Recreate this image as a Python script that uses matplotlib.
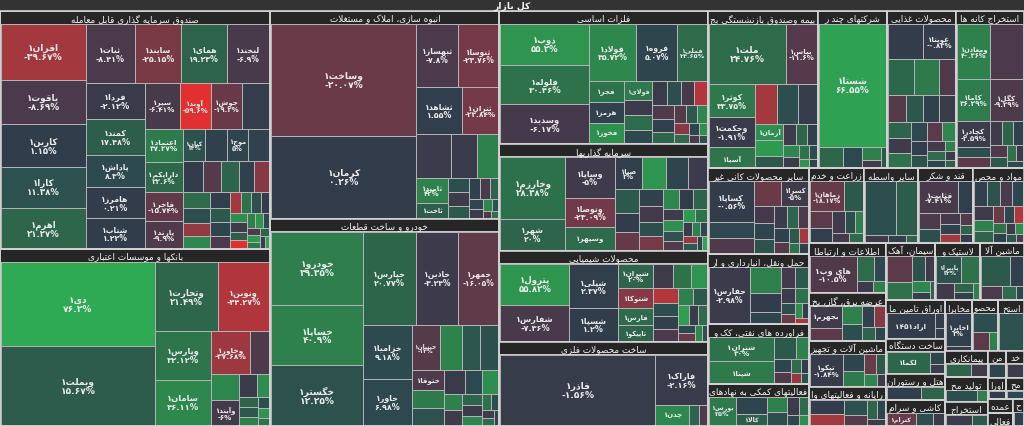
import matplotlib
matplotlib.use('Agg')
import matplotlib.pyplot as plt
from matplotlib.patches import Rectangle
from matplotlib.colors import LinearSegmentedColormap, Normalize

# ---- data: sectors (market weight) ----
sector_names = [
    'صندوق سرمایه گذاری قابل معامله', 'بانکها و موسسات اعتباری',
    'انبوه سازی، املاک و مستغلات', 'خودرو و ساخت قطعات', 'فلزات اساسی',
    'سرمایه گذاریها', 'محصولات شیمیایی', 'ساخت محصولات فلزی',
    'بیمه وصندوق بازنشستگی بجزتامین اجتماعی', 'شرکتهای چند رشته ای صنعتی',
    'محصولات غذایی و آشامیدنی به جز قند و شکر', 'استخراج کانه های فلزی',
    'سایر محصولات کانی غیرفلزی', 'حمل ونقل، انبارداری و ارتباطات',
    'فراورده های نفتی، کک و سوخت هسته ای', 'فعالیتهای کمکی به نهادهای مالی واسط',
    'زراعت و خدمات وابسته', 'سایر واسطه گریهای مالی', 'قند و شکر',
    'مواد و محصولات دارویی', 'اطلاعات و ارتباطات', 'عرضه برق، گاز، بخاروآب گرم',
    'ماشین آلات و تجهیزات', 'رایانه و فعالیتهای وابسته به آن', 'سیمان، آهک و گچ',
    'لاستیک و پلاستیک', 'ماشین آلات و دستگاههای برقی', 'اوراق تامین مالی',
    'ساخت دستگاهها و وسایل ارتباطی', 'هتل و رستوران', 'کاشی و سرامیک', 'مخابرات',
    'محصولات چوبی', 'استخراج نفت گاز و خدمات جنبی جز اکتشاف', 'پیمانکاری صنعتی',
    'تولید محصولات کامپیوتری الکترونیکی ونوری', 'استخراج سایر معادن', 'منسوجات',
    'خدمات فنی و مهندسی', 'اوراق مشارکت و سپرده های بانکی', 'محصولات کاغذی',
    'عمده فروشی', 'فعالیت های هنری', 'حمل و نقل آبی',
]
sector_caps = [64320, 47800, 47600, 47400, 27700, 22256, 18928, 17600,
               17300, 10900, 10800, 10700, 8686, 7070, 6060, 4242,
               4100, 4080, 4060, 3850, 3800, 3700, 3500, 3000,
               2850, 2565, 2508, 2280, 2100, 1570, 1550, 1350,
               1300, 1290, 1125, 1035, 1020, 500, 480, 400, 380, 360, 320, 300]

# ---- data: symbols in each sector (unnamed = too small to label) ----
tile_names = [
    ['افران', 'یاقوت', 'کارین', 'کارا', 'اهرم', 'ثبات', 'سایند', 'همای', 'لبخند', 'فردا', 'کمند',
     'پاداش', 'هامرز', 'شتاب', 'سپر', 'آوند', 'جوش', '', 'اعتماد', 'دارایکم', 'فاخر', 'پارند',
     'کیان', 'اونیکس', 'موج', 'اتوآگاه'],
    ['دی', 'وبملت', 'وتجارت', 'ونوین', 'وپارس', 'سامان', 'وخاور', '', '', 'وآیند'],
    ['وساخت', 'کرمان', 'ثبهساز', 'ثنوسا', 'ثشاهد', 'ثتران', '', '', '', 'ثامید', 'ثاخت'],
    ['خودرو', 'خساپا', 'خگستر', 'خپارس', 'خاذین', 'خمهر', 'خزامیا', 'خاور', 'خبنیان', '', '', '', 'ختوقا'],
    ['ذوب', 'فلوله', 'وسدید', 'فولاد', 'فروه', 'فملی', 'فجر', 'هرمز', 'فخوز', 'فولای'],
    ['وخارزم', 'شهر', 'وساپا', 'وتوصا', 'وسپهر', 'صبا', 'وبهمن', '', '', '', '', 'ولانی'],
    ['پترول', 'شفارس', 'شپلی', 'شسپا', 'شیران', 'شتوکا', 'فارس', '', 'تاپیکو'],
    ['فاذر', 'فاراک', 'چدن'],
    ['ملت', 'بپاس', 'کوثر', 'وحکمت', 'آسیا', '', '', 'دانا', 'آرمان'],
    ['شستا'],
    ['', 'غویتا', 'غگرا'],
    ['ومعادن', '', 'کاما', 'کگل', 'کچادر'],
    ['کساپا', '', '', 'کبهشهر', 'کسرا'],
    ['حفارس'],
    ['شتران', 'شپنا'],
    ['بورس', 'فرابورس', 'کالا'],
    ['زماهان'],
    [],
    ['قثابت'],
    [],
    ['های وب'],
    ['بجهرم'],
    ['تپکو'],
    [],
    ['سبزوا'],
    ['پاپیرا'],
    [],
    ['اراد145'],
    ['لکما'],
    [],
    ['کترام'],
    ['اخابر'],
    [], [], [], [], [], [], [], [], [], [], [], [],
]
tile_caps = [
    [4536, 3645, 3420, 3400, 3240, 2800, 2650, 2600, 2400, 2040, 2000, 1850, 1760, 1680, 1550, 1380,
     1370, 1200, 1190, 1120, 1050, 990, 680, 670, 650, 640, 620,
     560, 520, 480, 450, 420, 380, 350, 320, 300, 280, 260, 240, 220, 200, 180, 170, 160, 150, 140,
     130, 120, 110, 100, 90, 85, 80, 70, 60, 50],
    [12700, 11934, 4278, 3519, 2688, 2520, 1628, 836, 725, 700, 400, 275, 200, 180, 150, 120, 100, 80],
    [16095, 11745, 2583, 2520, 2115, 1692, 1496, 1144, 924, 775, 465,
     300, 280, 260, 220, 200, 180, 150, 120, 100, 80, 60, 50],
    [6570, 5490, 5400, 4876, 3864, 3680, 2596, 2183, 1239, 980, 805, 800, 640,
     580, 560, 480, 420, 380, 300, 260, 220, 200, 180, 150, 120, 100, 80, 60],
    [3700, 3600, 3500, 2679, 2394, 1710, 760, 720, 700, 580, 440, 435, 350,
     380, 360, 340, 320, 300, 280, 250, 230, 200, 180, 160, 140, 120, 100, 80, 60],
    [3760, 1900, 1880, 1344, 1050, 840, 714, 700, 560, 540, 450, 420,
     380, 350, 320, 300, 280, 260, 240, 220, 200, 180, 160, 150, 140, 120, 110, 100, 90, 80, 70, 60],
    [2730, 2340, 2070, 1518, 819, 663, 585, 470, 507,
     400, 380, 350, 320, 300, 280, 250, 220, 200, 180, 160, 140, 120, 100, 80],
    [11160, 2700, 684, 200, 150],
    [4312, 1736, 1435, 1312, 860, 820, 790, 700, 420, 400, 300, 250, 220, 200, 180, 150, 120, 100, 80, 60],
    [8568, 500, 400, 250, 150, 120],
    [1224, 1122, 910, 875, 560, 480, 456, 430, 420,
     380, 350, 320, 300, 280, 250, 230, 200, 180, 150, 130, 110, 90, 70],
    [1900, 1880, 1450, 1420, 864, 360, 340, 300, 280, 250, 200, 180, 150, 120, 100],
    [2142, 850, 830, 810, 800, 400, 380, 350, 320, 300, 260, 240, 200, 180, 150, 120, 100],
    [2632, 900, 672, 400, 350, 300, 260, 220, 180, 150, 120, 100, 80],
    [1742, 1541, 504, 288, 250, 200, 150, 120, 100, 80],
    [882, 616, 400, 350, 300, 250, 200, 150, 100],
    [988, 540, 364, 300, 280, 220, 180, 150, 120],
    [1888, 1298, 200, 150, 100],
    [1320, 462, 378, 300, 250, 200, 180, 150, 120, 100],
    [350, 320, 300, 280, 260, 230, 210, 190, 170, 150, 130, 120, 100, 90, 80, 60],
    [1924, 500, 300, 200, 150],
    [825, 430, 400, 350, 300, 250, 200, 150],
    [1122, 400, 350, 250, 200, 150, 100],
    [500, 400, 350, 250, 200, 150, 100],
    [726, 500, 350, 250, 200, 150, 100],
    [700, 500, 300, 200, 150, 100],
    [900, 400, 300, 200, 100],
    [1248, 150, 100],
    [1100, 200, 150],
    [600, 400],
    [500, 300, 200],
    [900, 100],
    [500, 300, 150],
    [900],
    [300, 200],
    [300, 100],
    [250, 150],
    [200], [200], [150], [150], [150], [100], [100],
]
tile_changes = [
    [-39.67, -8.69, 1.15, 11.38, 21.27, -8.41, -25.15, 19.23, -6.9, -2.12, 17.48, 8.3, 0.21, 1.22,
     -6.41, -59.6, -19.2, -1, 37.27, 22.6, -15.74, -9.9, 12, 3, 5, 4, 0,
     -12, 20, 3, -30, 25, 10, -35, 45, 2, 15, 5, -8, -40, 30, 12, 0, 50, -5, 18, -60, 40, 55, 8,
     -10, 60, 35, 20, -3, 70],
    [76.2, 15.67, 21.49, -44.27, 32.12, 46.11, -37.68, -9, 45, -6, -2, 50, 20, 15, 40, 10, 55, 30],
    [-20.07, 0.26, -7.8, -23.76, 1.55, -23.84, -3, -2, 40, 42, 18,
     10, -4, 15, 3, -8, 20, 6, -3, 45, 12, -10, 30],
    [39.35, 40.9, 12.25, 20.77, -3.24, -16.05, 9.18, 6.98, -12, 42, 14, 11, -10,
     35, 12, -2, 8, 50, 40, -5, 20, -3, 45, 30, 10, -6, 25, 5],
    [55.2, 30.46, -6.17, 45.72, 5.07, 24.65, 30, 4, 52, 36, -3, 25, 10,
     8, -2, -6, -45, -10, 3, 20, -12, 15, 45, -30, 25, 5, 50, -8, 12],
    [28.38, 20, -5, -23.09, 25, 2, 55, 5, -3, 15, 0, -18,
     3, -6, 10, -25, 45, 0, 20, -4, 50, 12, -10, 60, 30, -2, 40, 8, -35, 15, 5, 70],
    [55.82, -7.36, 2.37, 1.2, 20, -30, 25, -5, 20,
     30, 55, -45, 10, 3, -8, 40, 15, 65, -3, 25, 8, -20, 45, 12],
    [-1.56, -2.16, 45, 20, -10],
    [24.76, -11.6, 33.75, -1.91, 32, -40, 10, -1.45, 50, 60, 15, -5, 20, 2, 45, -3, 30, 10, 55, 5],
    [66.55, 22, 8, 40, -5, 15],
    [0, -0.83, 22.03, 35, -10, -12, 14, 3, -2,
     20, -4, 30, 8, -15, 45, 2, 12, -6, 25, 5, 40, -3, 18],
    [40.36, -8, 36.29, -9.29, -2.59, 10, -15, -5, 20, 3, -10, 15, 30, -2, 8],
    [-0.56, 8, -10, -20, -5, -6, 5, 12, -3, 20, -8, 3, -12, 15, -40, 30, 2],
    [-2.98, 40, 0, 5, -6, 15, -3, 30, 10, -20, 50, 2, -40],
    [30, 35, 15, 40, 5, -10, 25, 2, -35, 12],
    [35, 5, 18, 40, 10, -3, 25, 6, 50],
    [-18.17, 15, -15, 2, -4, 10, 40, -6, 25],
    [10, 16, -5, 3, 20],
    [-7.41, 2, -9, 10, -6, 4, -40, -12, 20, 2],
    [3, 12, -8, 6, -5, 40, 20, -20, 8, -45, 30, 2, -3, 50, 15, -10],
    [-10.5, 25, 8, -3, 40],
    [-5, -15, 40, 10, 3, -30, 20, 5],
    [-1.84, 5, 35, -20, 15, 45, -5],
    [0, -40, 12, -12, 20, 5, -5],
    [-15, 30, 12, -5, 45, 3, 20],
    [12, 30, -5, 20, 3, 40],
    [15, 3, -8, 25, 5],
    [0.5, 1, 0],
    [22, 5, -3],
    [2, 20],
    [-20, 10, -3],
    [2, 0],
    [10, -15, 40],
    [12],
    [20, -5],
    [10, 40],
    [-3, 15],
    [5], [-5], [0], [8], [-2], [12], [3],
]

# colour scale for % change
scale_values = [-60, -40, -22, -8, 0, 8, 20, 40, 60, 80, 100]
scale_colors = ['#e22f2f', '#a3383f', '#6f3a48', '#4a3a4b', '#323c4b', '#2d494f',
                '#2d644b', '#2e804d', '#2e9a50', '#2fae55', '#33c257']

W, H = 1024, 427
TOP = 12
HEAD = 13
PHI = (1 + 5 ** 0.5) / 2

# ---- persian shaping (matplotlib has no arabic shaping / bidi) ----
FORMS = {
    'ا': (0xFE8D, 0xFE8E), 'آ': (0xFE81, 0xFE82), 'د': (0xFEA9, 0xFEAA),
    'ذ': (0xFEAB, 0xFEAC), 'ر': (0xFEAD, 0xFEAE), 'ز': (0xFEAF, 0xFEB0),
    'ژ': (0xFB8A, 0xFB8B), 'و': (0xFEED, 0xFEEE),
    'ب': (0xFE8F, 0xFE90, 0xFE91, 0xFE92), 'پ': (0xFB56, 0xFB57, 0xFB58, 0xFB59),
    'ت': (0xFE95, 0xFE96, 0xFE97, 0xFE98), 'ث': (0xFE99, 0xFE9A, 0xFE9B, 0xFE9C),
    'ج': (0xFE9D, 0xFE9E, 0xFE9F, 0xFEA0), 'چ': (0xFB7A, 0xFB7B, 0xFB7C, 0xFB7D),
    'ح': (0xFEA1, 0xFEA2, 0xFEA3, 0xFEA4), 'خ': (0xFEA5, 0xFEA6, 0xFEA7, 0xFEA8),
    'س': (0xFEB1, 0xFEB2, 0xFEB3, 0xFEB4), 'ش': (0xFEB5, 0xFEB6, 0xFEB7, 0xFEB8),
    'ص': (0xFEB9, 0xFEBA, 0xFEBB, 0xFEBC), 'ض': (0xFEBD, 0xFEBE, 0xFEBF, 0xFEC0),
    'ط': (0xFEC1, 0xFEC2, 0xFEC3, 0xFEC4), 'ظ': (0xFEC5, 0xFEC6, 0xFEC7, 0xFEC8),
    'ع': (0xFEC9, 0xFECA, 0xFECB, 0xFECC), 'غ': (0xFECD, 0xFECE, 0xFECF, 0xFED0),
    'ف': (0xFED1, 0xFED2, 0xFED3, 0xFED4), 'ق': (0xFED5, 0xFED6, 0xFED7, 0xFED8),
    'ک': (0xFB8E, 0xFB8F, 0xFB90, 0xFB91), 'گ': (0xFB92, 0xFB93, 0xFB94, 0xFB95),
    'ل': (0xFEDD, 0xFEDE, 0xFEDF, 0xFEE0), 'م': (0xFEE1, 0xFEE2, 0xFEE3, 0xFEE4),
    'ن': (0xFEE5, 0xFEE6, 0xFEE7, 0xFEE8), 'ه': (0xFEE9, 0xFEEA, 0xFEEB, 0xFEEC),
    'ی': (0xFBFC, 0xFBFD, 0xFBFE, 0xFBFF), 'ئ': (0xFE89, 0xFE8A, 0xFE8B, 0xFE8C),
}
LAM_ALEF = {'ا': (0xFEFB, 0xFEFC), 'آ': (0xFEF5, 0xFEF6)}
FA_DIGITS = str.maketrans('0123456789', '۰۱۲۳۴۵۶۷۸۹')
DIGITS = set('۰۱۲۳۴۵۶۷۸۹')


def joins_fwd(c):
    return c in FORMS and len(FORMS[c]) == 4


def shape(s):
    out = []
    i, n = 0, len(s)
    while i < n:
        c = s[i]
        if c not in FORMS:
            out.append(c)
            i += 1
            continue
        linked = i > 0 and joins_fwd(s[i - 1])
        if c == 'ل' and i + 1 < n and s[i + 1] in LAM_ALEF:
            f = LAM_ALEF[s[i + 1]]
            out.append(chr(f[1] if linked else f[0]))
            i += 2
            continue
        reach = joins_fwd(c) and i + 1 < n and s[i + 1] in FORMS
        f = FORMS[c]
        if linked and reach:
            g = f[3]
        elif linked:
            g = f[1]
        elif reach:
            g = f[2]
        else:
            g = f[0]
        out.append(chr(g))
        i += 1
    return ''.join(out)


def rtl(s):
    s = shape(s.translate(FA_DIGITS))
    runs = []
    for ch in s:
        d = ch in DIGITS
        if runs and runs[-1][0] == d:
            runs[-1][1].append(ch)
        else:
            runs.append([d, [ch]])
    return ''.join(''.join(r) if d else ''.join(reversed(r)) for d, r in reversed(runs))


def pct(v):
    return (('%.2f' % v).rstrip('0').rstrip('.') + '%').translate(FA_DIGITS)


# ---- squarified treemap (d3 style) ----
def squarify(values, x0, y0, x1, y1, ratio=PHI):
    order = sorted(range(len(values)), key=lambda k: -values[k])
    nodes = [values[k] for k in order]
    out = [None] * len(values)
    value = float(sum(nodes))
    i0 = i1 = 0
    n = len(nodes)
    while i0 < n:
        dx, dy = x1 - x0, y1 - y0
        s = nodes[i1]
        i1 += 1
        mn = mx = s
        alpha = max(dy / dx, dx / dy) / (value * ratio)
        beta = s * s * alpha
        best = max(mx / beta, beta / mn)
        while i1 < n:
            v = nodes[i1]
            s2 = s + v
            beta = s2 * s2 * alpha
            r = max(max(mx, v) / beta, beta / min(mn, v))
            if r > best:
                break
            s, mn, mx, best = s2, min(mn, v), max(mx, v), r
            i1 += 1
        row = order[i0:i1]
        if dx < dy:
            yb = y0 + dy * s / value if i1 < n else y1
            xx = x0
            for k in row:
                ww = dx * values[k] / s
                out[k] = (xx, y0, ww, yb - y0)
                xx += ww
            y0 = yb
        else:
            xb = x0 + dx * s / value if i1 < n else x1
            yy = y0
            for k in row:
                hh = dy * values[k] / s
                out[k] = (x0, yy, xb - x0, hh)
                yy += hh
            x0 = xb
        value -= s
        i0 = i1
    return out


cmap = LinearSegmentedColormap.from_list(
    'chg', [((v - scale_values[0]) / (scale_values[-1] - scale_values[0]), c)
            for v, c in zip(scale_values, scale_colors)])
norm = Normalize(scale_values[0], scale_values[-1], clip=True)

fig = plt.figure(figsize=(W / 100, H / 100), dpi=100)
fig.patch.set_facecolor('#c6c6c6')
ax = fig.add_axes([0, 0, 1, 1])
ax.set_xlim(0, W)
ax.set_ylim(H, 0)
ax.axis('off')
renderer = fig.canvas.get_renderer()
FONT = 'DejaVu Sans'


def tile_label(x, y, w, h, name, chg):
    if not name or w < 14 or h < 8:
        return
    fs = min(6.6, max(4.6, 4.0 + min(w, 1.5 * h) / 28))
    line1 = rtl(name + '1')
    while fs >= 4.2:
        lh = fs * 1.39 * 1.1
        txt = line1 + '\n' + pct(chg) if h >= 2 * lh + 8 else line1
        t = ax.text(x + w / 2, y + h / 2, txt, ha='center', va='center', fontsize=fs,
                    color='#ececec', weight='bold', family=FONT, linespacing=1.0)
        bb = t.get_window_extent(renderer)
        if bb.width <= w - 4 and bb.height <= h - 1:
            return
        t.remove()
        fs -= 0.4


def header_label(x, y, w, name, fs=6.4):
    n = len(name)
    while n > 0:
        t = ax.text(x + w / 2, y + HEAD / 2 + 0.5, rtl(name[:n].rstrip()), ha='center',
                    va='center', fontsize=fs, color='#f4f4f4', family=FONT)
        if t.get_window_extent(renderer).width <= w - 3:
            return
        t.remove()
        n -= 1


# root bar
ax.add_patch(Rectangle((0, 0), W, TOP, facecolor='#333333', edgecolor='none'))
ax.text(W / 2, TOP / 2 + 0.5, rtl('کل بازار'), ha='center', va='center', fontsize=6.6,
        color='#f4f4f4', weight='bold', family=FONT)

sectors = squarify(sector_caps, 0, TOP, W, H)
for i, (sx, sy, sw, sh) in enumerate(sectors):
    bh = sh - HEAD
    if bh > 1.5:
        tiles = squarify(tile_caps[i], sx + 1, sy + HEAD, sx + sw - 1, sy + sh - 1)
        names = tile_names[i]
        for k, (tx, ty, tw, th) in enumerate(tiles):
            c = tile_changes[i][k]
            ax.add_patch(Rectangle((tx, ty), tw, th, facecolor=cmap(norm(c)),
                                   edgecolor='#b4b4b4', linewidth=0.7))
            tile_label(tx, ty, tw, th, names[k] if k < len(names) else '', c)
    ax.add_patch(Rectangle((sx + 0.5, sy + 0.5), sw - 1, min(HEAD, sh) - 1,
                           facecolor='#262626', edgecolor='none'))
    ax.add_patch(Rectangle((sx, sy), sw, sh, fill=False, edgecolor='#d2d2d2', linewidth=1.2))
    header_label(sx, sy, sw, sector_names[i])

fig.savefig('out.png', dpi=100, facecolor=fig.get_facecolor())
